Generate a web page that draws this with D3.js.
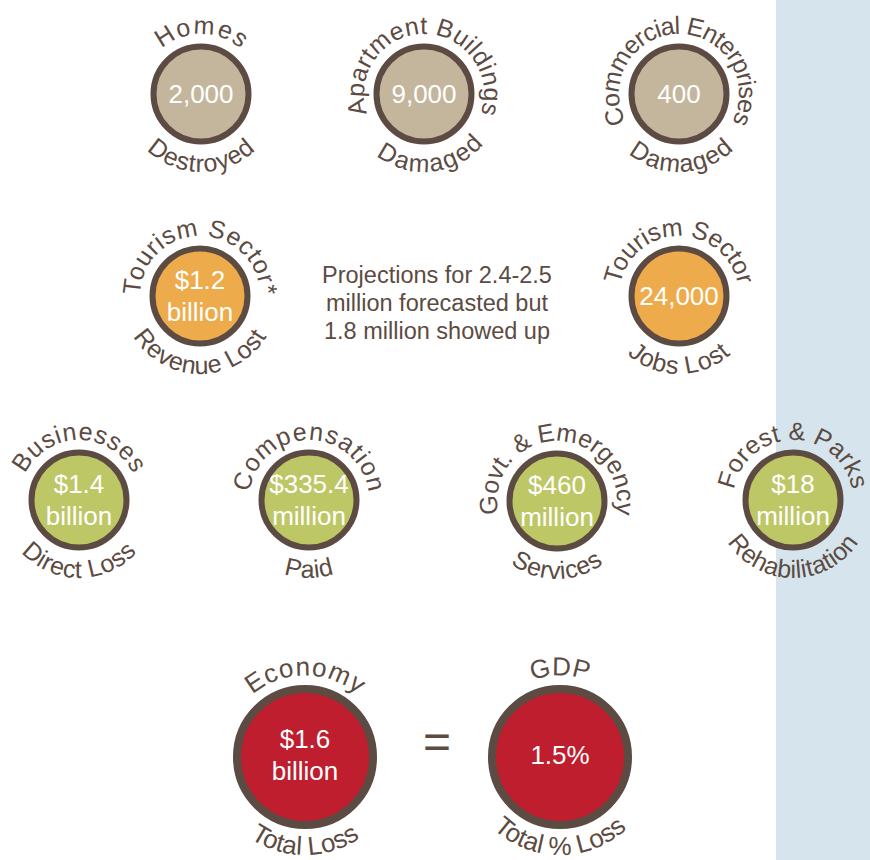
<!DOCTYPE html>
<html>
<head>
<meta charset="utf-8">
<script src="https://cdn.jsdelivr.net/npm/d3@7"></script>
<style>
  html, body { margin: 0; padding: 0; background: #ffffff; }
  svg { display: block; }
</style>
</head>
<body>
<svg id="chart" width="870" height="860"></svg>
<script>
// ---------------- DATA ----------------
const categories = [
  "homes", "apartments", "commercial",
  "tourismRevenue", "tourismJobs",
  "businesses", "compensation", "government", "forest",
  "economy", "gdp"
];
const topLabels = [
  "Homes", "Apartment Buildings", "Commercial Enterprises",
  "Tourism Sector*", "Tourism Sector",
  "Businesses", "Compensation", "Govt. & Emergency", "Forest & Parks",
  "Economy", "GDP"
];
const bottomLabels = [
  "Destroyed", "Damaged", "Damaged",
  "Revenue Lost", "Jobs Lost",
  "Direct Loss", "Paid", "Services", "Rehabilitation",
  "Total Loss", "Total % Loss"
];
const valueLines = [
  ["2,000"], ["9,000"], ["400"],
  ["$1.2", "billion"], ["24,000"],
  ["$1.4", "billion"], ["$335.4", "million"], ["$460", "million"], ["$18", "million"],
  ["$1.6", "billion"], ["1.5%"]
];
const sectors = [
  "property", "property", "property",
  "tourism", "tourism",
  "costs", "costs", "costs", "costs",
  "total", "total"
];
const noteLines = [
  "Projections for 2.4-2.5",
  "million forecasted but",
  "1.8 million showed up"
];

// ---------------- LAYOUT (scales) ----------------
const W = 870, H = 860;
const svg = d3.select("#chart");

const x = d3.scaleOrdinal()
  .domain(categories)
  .range([201, 424, 679, 200, 679, 79, 309, 557, 793, 305, 560]);
const y = d3.scaleOrdinal()
  .domain(categories)
  .range([94, 94, 94, 296, 296, 500, 500, 501, 500, 757, 757]);
// angular span (degrees) of the curved top label, as laid out in the original
const topSpan = d3.scaleOrdinal()
  .domain(categories)
  .range([82, 218, 236, 178, 158, 128, 165, 205, 160, 80, 40]);
// letter spacing of the curved bottom labels
const botSpacing = d3.scaleOrdinal()
  .domain(categories)
  .range([0.8, 1.8, 1.2, 0.5, 0.8, 0.5, 0.5, 0.5, 0.3, 0, 0]);
// small sideways shift (degrees) of a bottom label
const botShift = d3.scaleOrdinal()
  .domain(categories)
  .range([0, 6, 2, 0, 0, 0, 0, 0, 0, 0, 0]);
const color = d3.scaleOrdinal()
  .domain(["property", "tourism", "costs", "total"])
  .range(["#c4b69d", "#eeab4b", "#bec766", "#be1e2d"]);
const size = d3.scaleOrdinal()
  .domain(["property", "tourism", "costs", "total"])
  .range([47.5, 47.5, 47.5, 68]);
const ringWidth = d3.scaleOrdinal()
  .domain(["property", "tourism", "costs", "total"])
  .range([6, 6, 6, 8]);

const brown = "#5c4b42";
const fontFamily = "'Liberation Sans', Arial, Helvetica, sans-serif";

// light blue strip at right
svg.append("rect")
  .attr("x", 776).attr("y", 0)
  .attr("width", W - 776).attr("height", H)
  .attr("fill", "#d6e5ed");

const data = categories.map((c, i) => ({
  key: c, top: topLabels[i], bottom: bottomLabels[i],
  lines: valueLines[i], sector: sectors[i]
}));

const defs = svg.append("defs");

data.forEach(d => {
  const cx = x(d.key), cy = y(d.key);
  const r = size(d.sector), sw = ringWidth(d.sector);
  const outer = r + sw / 2;
  const big = d.sector === "total";
  const rt = outer + 9.5;                  // top label baseline radius
  const rb = outer + (big ? 26 : 27.5);    // bottom label baseline radius
  d.rt = rt; d.rb = rb;
  defs.append("path")
    .attr("id", "top-" + d.key)
    .attr("d", `M${cx},${cy + rt} A${rt},${rt} 0 1 1 ${cx},${cy - rt} A${rt},${rt} 0 1 1 ${cx},${cy + rt}`);
  defs.append("path")
    .attr("id", "bot-" + d.key)
    .attr("d", `M${cx},${cy - rb} A${rb},${rb} 0 1 0 ${cx},${cy + rb} A${rb},${rb} 0 1 0 ${cx},${cy - rb}`);
});

const g = svg.selectAll("g.badge")
  .data(data)
  .join("g")
  .attr("class", "badge")
  .attr("transform", d => `translate(${x(d.key)},${y(d.key)})`);

g.append("circle")
  .attr("r", d => size(d.sector))
  .attr("fill", d => color(d.sector))
  .attr("stroke", brown)
  .attr("stroke-width", d => ringWidth(d.sector));

// value text
g.each(function (d) {
  const sel = d3.select(this);
  const lh = 32.5;
  const n = d.lines.length;
  const base0 = n === 1 ? 8.5 : -7.5;
  const t = sel.append("text")
    .attr("text-anchor", "middle")
    .attr("fill", "#ffffff")
    .attr("font-family", fontFamily)
    .attr("font-size", 26);
  d.lines.forEach((line, i) => {
    t.append("tspan")
      .attr("x", 0)
      .attr("y", base0 + i * lh + (d.sector === "total" ? (n === 1 ? -1.5 : -2) : 0))
      .text(line);
  });
});

// curved top labels, spacing fitted to the arc span
const topText = svg.selectAll("text.toplabel")
  .data(data)
  .join("text")
  .attr("class", "toplabel")
  .attr("fill", brown)
  .attr("font-family", fontFamily)
  .attr("font-size", d => d.sector === "total" ? 26 : 25);
topText.append("textPath")
  .attr("href", d => "#top-" + d.key)
  .attr("startOffset", "50%")
  .attr("text-anchor", "middle")
  .text(d => d.top);
topText.each(function (d) {
  const natural = this.getComputedTextLength();
  const target = topSpan(d.key) * Math.PI / 180 * d.rt;
  const n = d.top.length;
  const ls = (target - natural) / Math.max(1, n - 1);
  d3.select(this).attr("letter-spacing", ls.toFixed(2));
  d3.select(this).select("textPath")
    .attr("startOffset", (50 + (ls / 2) / (2 * Math.PI * d.rt) * 100).toFixed(3) + "%");
});

// curved bottom labels
svg.selectAll("text.botlabel")
  .data(data)
  .join("text")
  .attr("class", "botlabel")
  .attr("fill", brown)
  .attr("font-family", fontFamily)
  .attr("font-size", d => d.sector === "total" ? 26 : 25)
  .attr("letter-spacing", d => botSpacing(d.key))
  .append("textPath")
  .attr("href", d => "#bot-" + d.key)
  .attr("startOffset", d => (50 + botShift(d.key) / 360 * 100 + (botSpacing(d.key) / 2) / (2 * Math.PI * d.rb) * 100).toFixed(3) + "%")
  .attr("text-anchor", "middle")
  .text(d => d.bottom);

// note text between tourism badges
const note = svg.append("text")
  .attr("text-anchor", "middle")
  .attr("fill", brown)
  .attr("font-family", fontFamily)
  .attr("font-size", 23.5);
noteLines.forEach((line, i) => {
  note.append("tspan")
    .attr("x", 437)
    .attr("y", 283 + i * 28)
    .text(line);
});

// equals sign
svg.append("text")
  .attr("x", 437)
  .attr("y", 758)
  .attr("text-anchor", "middle")
  .attr("fill", brown)
  .attr("font-family", fontFamily)
  .attr("font-size", 48)
  .text("=");
</script>
</body>
</html>
